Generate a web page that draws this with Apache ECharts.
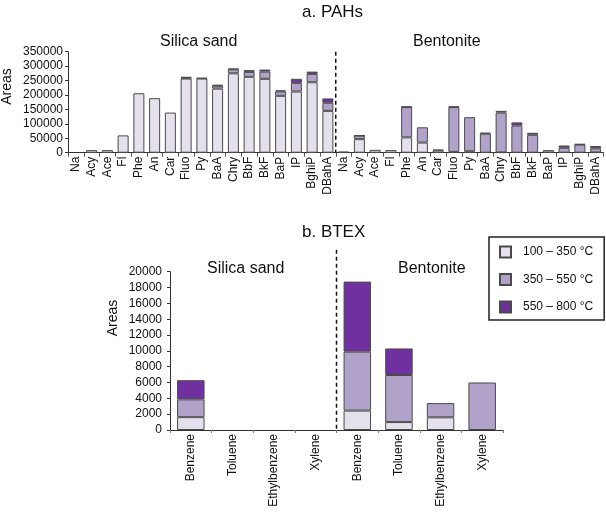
<!DOCTYPE html>
<html>
<head>
<meta charset="utf-8">
<title>PAHs and BTEX</title>
<script src="https://cdn.jsdelivr.net/npm/echarts@6/dist/echarts.min.js"></script>
<style>
  html, body { margin: 0; padding: 0; background: #fff; }
  #chart { width: 606px; height: 517px; }
</style>
</head>
<body>
<div id="chart"></div>
<script>
// categories
var pahNames = ["Na", "Acy", "Ace", "Fl", "Phe", "An", "Car", "Fluo", "Py", "BaA",
  "Chry", "BbF", "BkF", "BaP", "IP", "BghiP", "DBahA"];
var btexNames = ["Benzene", "Toluene", "Ethylbenzene", "Xylene"];
var rangeNames = ["100 – 350 °C", "350 – 550 °C", "550 – 800 °C"];

// a. PAHs, silica sand
var silicaPahLow = [0, 9000, 9000, 60000, 206000, 189000, 139000, 257000, 257000, 222000,
  275000, 263000, 256000, 197000, 212000, 244000, 145000];
var silicaPahMid = [0, 0, 0, 0, 0, 0, 0, 3000, 0, 10000,
  14000, 17000, 25000, 15000, 30000, 29000, 28000];
var silicaPahHigh = [0, 0, 0, 0, 0, 0, 0, 2000, 2000, 3000,
  2000, 6000, 7000, 4000, 14000, 8000, 15000];

// a. PAHs, bentonite
var bentPahLow = [4000, 47000, 10000, 9000, 53000, 35000, 8000, 3000, 5000, 0,
  1000, 0, 0, 0, 0, 0, 1000];
var bentPahMid = [0, 12000, 0, 0, 105000, 53000, 2000, 155000, 118000, 66000,
  138000, 94000, 62000, 9000, 17000, 28000, 14000];
var bentPahHigh = [0, 1000, 0, 0, 2000, 0, 0, 2000, 0, 3000,
  6000, 11000, 7000, 0, 8000, 2000, 8000];

// b. BTEX
var silicaBtexLow = [1620, 0, 0, 0];
var silicaBtexMid = [2250, 0, 0, 0];
var silicaBtexHigh = [2420, 0, 0, 0];
var bentBtexLow = [2450, 1000, 1600, 0];
var bentBtexMid = [7450, 5950, 1800, 6000];
var bentBtexHigh = [8850, 3350, 0, 0];

var pahTicks = [0, 350000, 50000];
var btexTicks = [0, 20000, 2000];

var colors = ["#e5e1ec", "#b1a2ca", "#7030a0"];
var font = "'Liberation Sans', Arial, sans-serif";

var chart = echarts.init(document.getElementById("chart"));

var pahLow = silicaPahLow.concat(bentPahLow);
var pahMid = silicaPahMid.concat(bentPahMid);
var pahHigh = silicaPahHigh.concat(bentPahHigh);
var btexLow = silicaBtexLow.concat(bentBtexLow);
var btexMid = silicaBtexMid.concat(bentBtexMid);
var btexHigh = silicaBtexHigh.concat(bentBtexHigh);

function barSeries(name, idx, data, width, stack) {
  return {
    name: name,
    type: "bar",
    stack: stack,
    xAxisIndex: idx,
    yAxisIndex: idx,
    barWidth: width,
    // empty segments are left out so no border line is drawn for them
    data: data.map(function (v) { return v === 0 ? "-" : v; }),
    itemStyle: {
      color: colors[rangeNames.indexOf(name)],
      borderColor: "#4a4a4a",
      borderWidth: 1
    },
    animation: false
  };
}

var axisLine = { lineStyle: { color: "#333", width: 1 } };
var labelStyle = { color: "#111", fontSize: 12, fontFamily: font };
function plain(v) { return String(v); }

var option = {
  animation: false,
  textStyle: { fontFamily: font },
  title: [
    { text: "a. PAHs", left: 302, top: 4, padding: 0,
      textStyle: { fontSize: 17, fontWeight: "normal", color: "#111", fontFamily: font } },
    { text: "Silica sand", left: 160, top: 34, padding: 0,
      textStyle: { fontSize: 16, fontWeight: "normal", color: "#111", fontFamily: font } },
    { text: "Bentonite", left: 413, top: 34, padding: 0,
      textStyle: { fontSize: 16, fontWeight: "normal", color: "#111", fontFamily: font } },
    { text: "b. BTEX", left: 302, top: 224, padding: 0,
      textStyle: { fontSize: 17, fontWeight: "normal", color: "#111", fontFamily: font } },
    { text: "Silica sand", left: 207, top: 261, padding: 0,
      textStyle: { fontSize: 16, fontWeight: "normal", color: "#111", fontFamily: font } },
    { text: "Bentonite", left: 398, top: 261, padding: 0,
      textStyle: { fontSize: 16, fontWeight: "normal", color: "#111", fontFamily: font } }
  ],
  legend: {
    data: rangeNames,
    orient: "vertical",
    left: 489,
    top: 237,
    width: 115,
    padding: [8, 11, 6, 10],
    itemGap: 13.5,
    itemWidth: 11,
    itemHeight: 11,
    icon: "rect",
    borderColor: "#222",
    borderWidth: 1.5,
    borderRadius: 0,
    textStyle: { fontSize: 12, color: "#111", fontFamily: font, lineHeight: 14,
      padding: [0, 0, 0, 7] }
  },
  grid: [
    { left: 68, top: 51.7, width: 535.5, height: 101, containLabel: false },
    { left: 170, top: 271.7, width: 333, height: 158.3, containLabel: false }
  ],
  xAxis: [
    {
      type: "category",
      gridIndex: 0,
      data: pahNames.concat(pahNames),
      axisLine: axisLine,
      axisTick: { show: true, length: 4, lineStyle: { color: "#555" } },
      axisLabel: Object.assign({ interval: 0, rotate: 90, margin: 4 }, labelStyle)
    },
    {
      type: "category",
      gridIndex: 1,
      data: btexNames.concat(btexNames),
      axisLine: axisLine,
      axisTick: { show: true, length: 3, lineStyle: { color: "#777" } },
      axisLabel: Object.assign({ interval: 0, rotate: 90, margin: 4 }, labelStyle)
    }
  ],
  yAxis: [
    {
      type: "value",
      gridIndex: 0,
      min: pahTicks[0],
      max: pahTicks[1],
      interval: pahTicks[2],
      axisLine: Object.assign({ show: true }, axisLine),
      axisTick: { show: true, length: 3, lineStyle: { color: "#333" } },
      splitLine: { show: false },
      axisLabel: Object.assign({ margin: 5, formatter: plain }, labelStyle)
    },
    {
      type: "value",
      gridIndex: 1,
      min: btexTicks[0],
      max: btexTicks[1],
      interval: btexTicks[2],
      axisLine: Object.assign({ show: true }, axisLine),
      axisTick: { show: true, length: 3, lineStyle: { color: "#333" } },
      splitLine: { show: false },
      axisLabel: Object.assign({ margin: 8, formatter: plain }, labelStyle)
    }
  ],
  series: [
    barSeries(rangeNames[0], 0, pahLow, "70%", "pah"),
    barSeries(rangeNames[1], 0, pahMid, "70%", "pah"),
    barSeries(rangeNames[2], 0, pahHigh, "70%", "pah"),
    barSeries(rangeNames[0], 1, btexLow, "66%", "btex"),
    barSeries(rangeNames[1], 1, btexMid, "66%", "btex"),
    barSeries(rangeNames[2], 1, btexHigh, "66%", "btex")
  ]
};

chart.setOption(option);

// dashed separators between the two materials, placed via the axes
function boundaryX(axisIdx, n) {
  var a = chart.convertToPixel({ xAxisIndex: axisIdx }, n - 1);
  var b = chart.convertToPixel({ xAxisIndex: axisIdx }, n);
  return (a + b) / 2;
}
var x0 = boundaryX(0, pahNames.length);
var x1 = boundaryX(1, btexNames.length);
var y0top = chart.convertToPixel({ yAxisIndex: 0 }, pahTicks[1]);
var y0bot = chart.convertToPixel({ yAxisIndex: 0 }, 0);
var y1top = chart.convertToPixel({ yAxisIndex: 1 }, btexTicks[1]) - 22;
var y1bot = chart.convertToPixel({ yAxisIndex: 1 }, 0);
var dash = { stroke: "#111", lineWidth: 1.5, lineDash: [4, 3] };

chart.setOption({
  graphic: [
    { type: "line", shape: { x1: x0, y1: y0top, x2: x0, y2: y0bot }, style: dash, z: 10 },
    { type: "line", shape: { x1: x1, y1: y1top, x2: x1, y2: y1bot }, style: dash, z: 10 },
    { type: "text", x: 7.5, y: 86.5, rotation: Math.PI / 2,
      style: { text: "Areas", fontSize: 14, fontFamily: font, fill: "#111",
        align: "center", verticalAlign: "middle" } },
    { type: "text", x: 113, y: 318, rotation: Math.PI / 2,
      style: { text: "Areas", fontSize: 14, fontFamily: font, fill: "#111",
        align: "center", verticalAlign: "middle" } }
  ]
});
</script>
</body>
</html>
